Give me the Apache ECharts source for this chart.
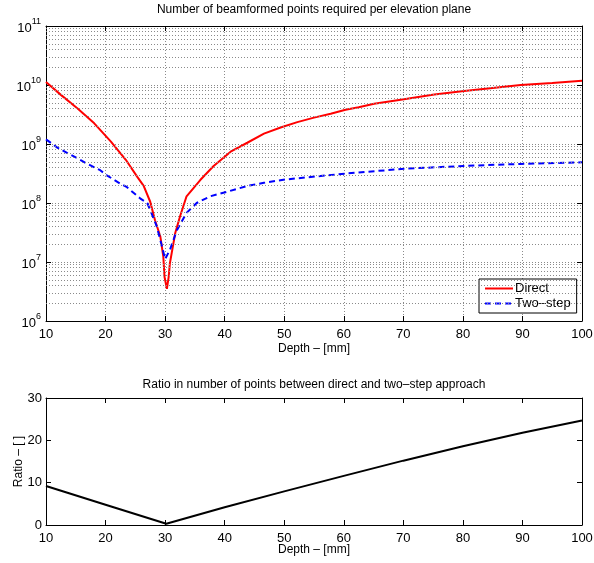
<!DOCTYPE html>
<html>
<head>
<meta charset="utf-8">
<script src="https://cdn.jsdelivr.net/npm/echarts@6/dist/echarts.min.js"></script>
<style>
html,body{margin:0;padding:0;background:#fff;}
#chart{width:594px;height:563px;}
</style>
</head>
<body>
<div id="chart"></div>
<script>
// ---- data ----
const directDepth = [10, 12.5, 15.3, 18.1, 20.9, 23.4, 25.3, 26.4, 27.5, 28.3, 29.2, 29.7, 29.9, 30.3, 30.6, 30.8, 31.7, 32.5, 33.6, 35.9, 38.1, 41.0, 43.8, 46.6, 49.4, 52.2, 55.0, 57.8, 60.3, 62.5, 65.1, 70.1, 75.2, 80.2, 85, 89.7, 95, 100];
const directVals  = [1.12e10, 6.8e9, 4.0e9, 2.24e9, 1.1e9, 5.4e8, 2.8e8, 1.95e8, 1.05e8, 5.1e7, 2.7e7, 1.23e7, 5.6e6, 3.5e6, 5.6e6, 9.5e6, 3.1e7, 5.9e7, 1.3e8, 2.45e8, 4.2e8, 7.4e8, 1.05e9, 1.5e9, 1.9e9, 2.35e9, 2.8e9, 3.25e9, 3.8e9, 4.2e9, 4.8e9, 5.75e9, 6.9e9, 7.9e9, 8.9e9, 1.0e10, 1.08e10, 1.18e10];

const twoStepDepth = [10, 11.9, 13.6, 15.3, 16.8, 19.1, 20.2, 22.4, 23.6, 25.8, 27.0, 27.5, 28.6, 29.5, 30.0, 30.8, 32.0, 33.6, 35.3, 37.6, 40.4, 43.8, 46.6, 50.2, 60.2, 70.1, 80.2, 89.7, 100];
const twoStepVals  = [1.2e9, 8.7e8, 7.0e8, 5.7e8, 4.7e8, 3.6e8, 2.95e8, 2.15e8, 1.85e8, 1.2e8, 1.0e8, 7.6e7, 4.0e7, 1.8e7, 1.12e7, 1.6e7, 3.5e7, 6.8e7, 1.0e8, 1.3e8, 1.55e8, 1.95e8, 2.2e8, 2.5e8, 3.15e8, 3.8e8, 4.25e8, 4.6e8, 4.9e8];

const ratioDepth = [10, 20, 30.2, 40, 50, 60, 70, 80, 90, 100];
const ratioVals  = [9.2, 4.8, 0.3, 4.2, 7.95, 11.6, 15.2, 18.6, 21.8, 24.7];

const logMinorGrid = [2e6,3e6,4e6,5e6,6e6,7e6,8e6,9e6,
                      2e7,3e7,4e7,5e7,6e7,7e7,8e7,9e7,
                      2e8,3e8,4e8,5e8,6e8,7e8,8e8,9e8,
                      2e9,3e9,4e9,5e9,6e9,7e9,8e9,9e9,
                      2e10,3e10,4e10,5e10,6e10,7e10,8e10,9e10];

const topTitle = 'Number of beamformed points required per elevation plane';
const bottomTitle = 'Ratio in number of points between direct and two\u2013step approach';
const xName = 'Depth \u2013 [mm]';
const ratioName = 'Ratio \u2013 [ ]';
const seriesNames = ['Direct', 'Two\u2013step'];

// ---- chart ----
const FONT = 'Liberation Sans, Arial, Helvetica, sans-serif';
const zip = (a, b) => a.map((v, i) => [v, b[i]]);
const dotted = { type: [1, 2], color: '#8a8a8a', width: 1 };

function xAxisBase(gridIndex, extra) {
  return Object.assign({
    type: 'value', gridIndex, min: 10, max: 100, interval: 10,
    nameMoveOverlap: false,
    axisLine: { show: true, onZero: false, lineStyle: { color: '#000', width: 1 } },
    axisTick: { show: true, inside: true, length: 5, lineStyle: { color: '#000' } },
    axisLabel: { show: true, margin: 7, color: '#000', fontSize: 13, fontFamily: FONT },
    splitLine: { show: false }
  }, extra);
}

const option = {
  animation: false,
  backgroundColor: '#fff',
  textStyle: { fontFamily: FONT },
  graphic: [
    { type: 'text', x: 314, y: 10, style: { text: topTitle, align: 'center', verticalAlign: 'middle', fontSize: 12, fontFamily: FONT, fill: '#000' } },
    { type: 'text', x: 314, y: 385, style: { text: bottomTitle, align: 'center', verticalAlign: 'middle', fontSize: 12, fontFamily: FONT, fill: '#000' } }
  ],
  grid: [
    { left: 46, right: 12, top: 26, height: 295, containLabel: false, outerBoundsMode: 'none' },
    { left: 46, right: 12, top: 398, height: 127, containLabel: false, outerBoundsMode: 'none' }
  ],
  legend: {
    data: seriesNames,
    orient: 'vertical',
    left: 479, top: 279,
    padding: [3, 6, 3, 5],
    itemGap: 2,
    itemWidth: 28, itemHeight: 14,
    itemStyle: { opacity: 0 },
    backgroundColor: '#fff',
    borderColor: '#000', borderWidth: 1, borderRadius: 0,
    textStyle: { fontSize: 13, color: '#000', fontFamily: FONT, padding: [0, 0, 0, -3] }
  },
  xAxis: [
    xAxisBase(0, { name: xName, nameLocation: 'middle', nameGap: 22, nameTextStyle: { fontSize: 12, color: '#000', fontFamily: FONT },
                   splitLine: { show: true, lineStyle: dotted } }),
    xAxisBase(0, { position: 'top', axisLabel: { show: false } }),
    xAxisBase(1, { name: xName, nameLocation: 'middle', nameGap: 19, nameTextStyle: { fontSize: 12, color: '#000', fontFamily: FONT } }),
    xAxisBase(1, { position: 'top', axisLabel: { show: false } })
  ],
  yAxis: [
    {
      type: 'log', logBase: 10, gridIndex: 0, min: 1e6, max: 1e11,
      axisLine: { show: true, lineStyle: { color: '#000', width: 1 } },
      axisTick: { show: true, inside: true, length: 5, lineStyle: { color: '#000' } },
      splitLine: { show: true, lineStyle: dotted },
      axisLabel: {
        margin: 5, color: '#000', fontFamily: FONT,
        formatter: v => '{b|10}{s|' + Math.round(Math.log10(v)) + '}',
        rich: {
          b: { fontSize: 13, lineHeight: 18, verticalAlign: 'bottom', fontFamily: FONT, color: '#000' },
          s: { fontSize: 9, lineHeight: 18, verticalAlign: 'top', fontFamily: FONT, color: '#000' }
        }
      }
    },
    {
      type: 'log', logBase: 10, gridIndex: 0, min: 1e6, max: 1e11, position: 'right',
      axisLine: { show: true, lineStyle: { color: '#000', width: 1 } },
      axisTick: { show: true, inside: true, length: 5, lineStyle: { color: '#000' } },
      splitLine: { show: false }, axisLabel: { show: false }
    },
    {
      type: 'value', gridIndex: 1, min: 0, max: 30, interval: 10,
      name: ratioName, nameLocation: 'middle', nameGap: 21, nameMoveOverlap: false,
      nameTextStyle: { fontSize: 12, color: '#000', fontFamily: FONT },
      axisLine: { show: true, lineStyle: { color: '#000', width: 1 } },
      axisTick: { show: true, inside: true, length: 5, lineStyle: { color: '#000' } },
      splitLine: { show: false },
      axisLabel: { margin: 4, color: '#000', fontSize: 13, fontFamily: FONT }
    },
    {
      type: 'value', gridIndex: 1, min: 0, max: 30, interval: 10, position: 'right',
      axisLine: { show: true, lineStyle: { color: '#000', width: 1 } },
      axisTick: { show: true, inside: true, length: 5, lineStyle: { color: '#000' } },
      splitLine: { show: false }, axisLabel: { show: false }
    }
  ],
  series: [
    {
      name: 'minor-grid', type: 'line', xAxisIndex: 0, yAxisIndex: 0, data: [], z: 1,
      silent: true,
      markLine: {
        silent: true, symbol: 'none', animation: false,
        label: { show: false },
        lineStyle: dotted,
        emphasis: { disabled: true },
        data: logMinorGrid.map(v => ({ yAxis: v }))
      }
    },
    {
      name: seriesNames[0], type: 'line', xAxisIndex: 0, yAxisIndex: 0,
      data: zip(directDepth, directVals),
      showSymbol: false, symbol: 'none', z: 3,
      lineStyle: { color: '#ff0000', width: 2 },
      itemStyle: { color: '#ff0000' }
    },
    {
      name: seriesNames[1], type: 'line', xAxisIndex: 0, yAxisIndex: 0,
      data: zip(twoStepDepth, twoStepVals),
      showSymbol: false, symbol: 'none', z: 3,
      lineStyle: { color: '#0000ff', width: 2, type: [6, 4] },
      itemStyle: { color: '#0000ff' }
    },
    {
      name: 'ratio', type: 'line', xAxisIndex: 2, yAxisIndex: 2,
      data: zip(ratioDepth, ratioVals),
      showSymbol: false, symbol: 'none',
      lineStyle: { color: '#000', width: 2 },
      itemStyle: { color: '#000' }
    }
  ]
};

const chart = echarts.init(document.getElementById('chart'), null, { renderer: 'canvas' });
chart.setOption(option);
</script>
</body>
</html>
